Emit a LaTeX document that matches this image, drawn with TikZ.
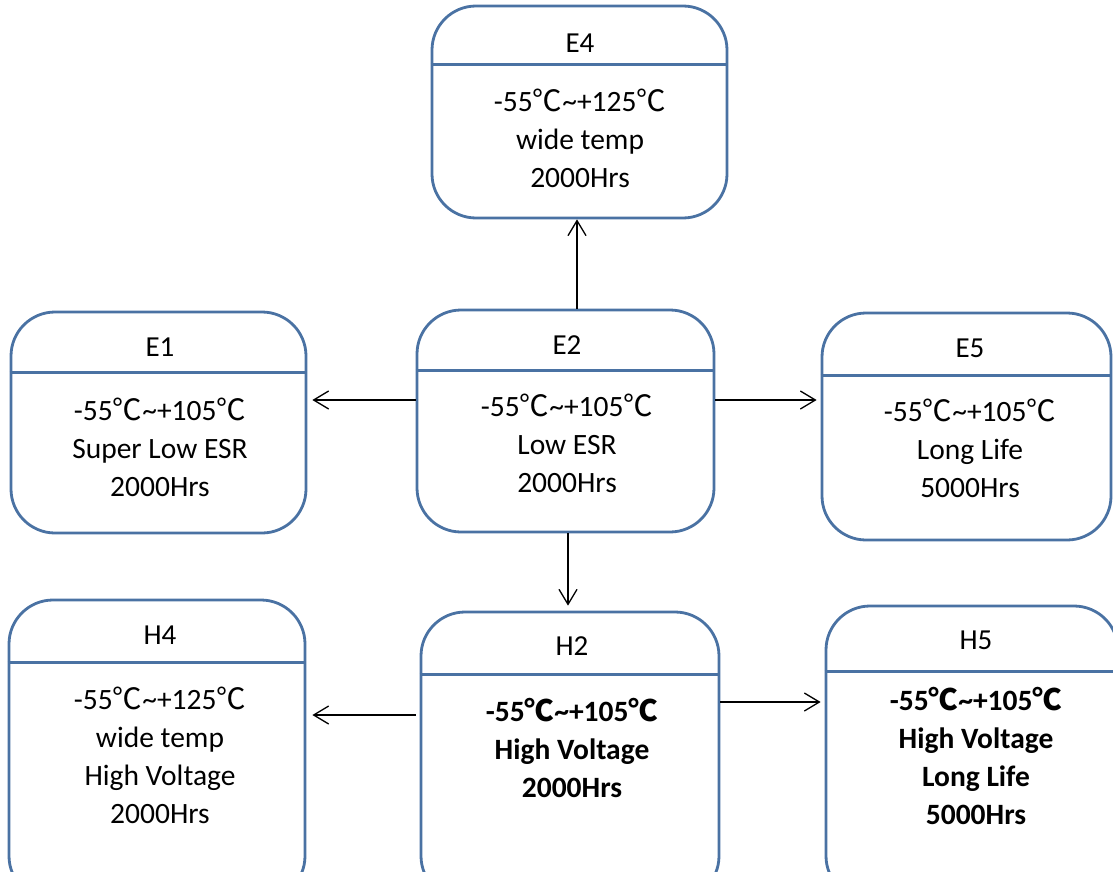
\documentclass[tikz,border=0pt]{standalone}
\usepackage{fontspec}
\setmainfont{Carlito}
\newfontfamily\cjk{Noto Sans CJK SC}
\usetikzlibrary{arrows.meta}
\definecolor{boxblue}{RGB}{74,114,163}
\newcommand{\dc}{{\cjk ℃}}
\tikzset{
  box/.style={draw=boxblue, line width=2.8pt, rounded corners=44pt, fill=white, inner sep=0pt},
  divider/.style={draw=boxblue, line width=2.8pt},
  ttl/.style={font=\fontsize{29}{34}\selectfont, inner sep=0pt},
  body/.style={font=\fontsize{29.5}{38}\selectfont, align=center, inner sep=0pt},
  arr/.style={-{Straight Barb[length=15pt,width=18pt]}, line width=1.3pt, black}
}
\begin{document}
\begin{tikzpicture}[x=1pt,y=-1pt]
\useasboundingbox (0,0) rectangle (1113,872);
\clip (0,0) rectangle (1113,872);
% boxes
\node[box, minimum width=295pt, minimum height=212pt] (E4) at (579.5,112) {};
\node[box, minimum width=295pt, minimum height=221pt] (E1) at (158.5,422.5) {};
\node[box, minimum width=297pt, minimum height=222pt] (E2) at (565.5,421) {};
\node[box, minimum width=289pt, minimum height=227pt] (E5) at (966.5,426.5) {};
\node[box, minimum width=296pt, minimum height=300pt] (H4) at (157,750) {};
\node[box, minimum width=298pt, minimum height=288pt] (H2) at (570,756) {};
\node[box, minimum width=292pt, minimum height=294pt] (H5) at (972,753) {};
% dividers
\draw[divider] ([yshift=-60pt]E4.north west) -- ([yshift=-60pt]E4.north east);
\draw[divider] ([yshift=-62pt]E1.north west) -- ([yshift=-62pt]E1.north east);
\draw[divider] ([yshift=-62pt]E2.north west) -- ([yshift=-62pt]E2.north east);
\draw[divider] ([yshift=-64pt]E5.north west) -- ([yshift=-64pt]E5.north east);
\draw[divider] ([yshift=-64pt]H4.north west) -- ([yshift=-64pt]H4.north east);
\draw[divider] ([yshift=-64pt]H2.north west) -- ([yshift=-64pt]H2.north east);
\draw[divider] ([yshift=-67pt]H5.north west) -- ([yshift=-67pt]H5.north east);
% titles
\node[ttl] (tE4) at (580,43) {E4};
\node[ttl] (tE1) at (160,347) {E1};
\node[ttl] (tE2) at (567,345) {E2};
\node[ttl] (tE5) at (970,348) {E5};
\node[ttl] (tH4) at (160,635) {H4};
\node[ttl] (tH2) at (572,646) {H2};
\node[ttl] (tH5) at (976,640) {H5};
% bodies
\node[body] (bE4) at (580,138.5) {-55\dc\char`~+125\dc\\wide temp\\2000Hrs};
\node[body] (bE1) at (160,447) {-55\dc\char`~+105\dc\\Super Low ESR\\2000Hrs};
\node[body] (bE2) at (567,443.7) {-55\dc\char`~+105\dc\\Low ESR\\2000Hrs};
\node[body] (bE5) at (970,448.7) {-55\dc\char`~+105\dc\\Long Life\\5000Hrs};
\node[body] (bH4) at (160,755.5) {-55\dc\char`~+125\dc\\wide temp\\High Voltage\\2000Hrs};
\node[body, font=\fontsize{29.5}{38}\selectfont\bfseries] (bH2) at (572,748) {-55{\cjk\bfseries ℃}\char`~+105{\cjk\bfseries ℃}\\High Voltage\\2000Hrs};
\node[body, font=\fontsize{29.5}{38}\selectfont\bfseries] (bH5) at (976,755.8) {-55{\cjk\bfseries ℃}\char`~+105{\cjk\bfseries ℃}\\High Voltage\\Long Life\\5000Hrs};
% arrows
\draw[arr] ([xshift=11.5pt]E2.north) -- ([xshift=11.5pt]E2.north |- E4.south);
\draw[arr, shorten >=5pt] ([yshift=21pt]E2.west) -- ([yshift=21pt]E2.west -| E1.east);
\draw[arr, shorten >=4pt] ([yshift=21pt]E2.east) -- ([yshift=21pt]E2.east -| E5.west);
\draw[arr, shorten >=5pt] ([xshift=2.5pt]E2.south) -- ([xshift=2.5pt]E2.south |- H2.north);
\draw[arr, shorten >=6pt] ([xshift=-4pt,yshift=41pt]H2.west) -- ([yshift=41pt]H2.west -| H4.east);
\draw[arr, shorten >=4pt] ([yshift=54pt]H2.east) -- ([yshift=54pt]H2.east -| H5.west);
\end{tikzpicture}
\end{document}
